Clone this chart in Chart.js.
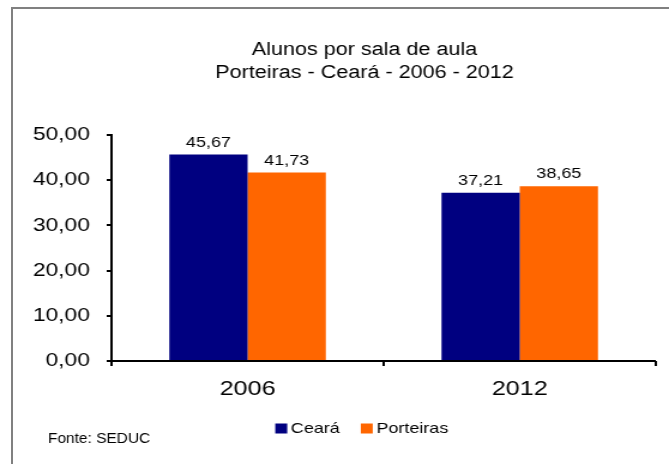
<!DOCTYPE html>
<html>
<head>
<meta charset="utf-8">
<script src="https://cdn.jsdelivr.net/npm/chart.js@4.4.0/dist/chart.umd.min.js"></script>
<style>
  html, body { margin: 0; padding: 0; background: #fff; overflow: hidden; width: 669px; height: 464px; }
  #frame { position: absolute; left: 11px; top: 7px; width: 900px; height: 700px; border: 2px solid #808080; }
  #chart { position: absolute; left: 0; top: 0; }
</style>
</head>
<body>
<div id="frame"></div>
<!-- canvas drawn narrower and stretched a little, like the source picture -->
<canvas id="chart" width="558" height="464" style="width:669px;height:464px"></canvas>
<script>
  var FONT = '"Liberation Sans", Arial, sans-serif';

  var titleLines = ['Alunos por sala de aula', 'Porteiras - Ceará - 2006 - 2012'];
  var categories = ['2006', '2012'];
  var seriesNames = ['Ceará', 'Porteiras'];
  var cearaValues = [45.67, 37.21];
  var porteirasValues = [41.73, 38.65];
  var yMin = 0, yMax = 50, yStep = 10;
  var sourceNote = 'Fonte: SEDUC';

  var COLORS = { ceara: '#000080', porteiras: '#FF6600', ink: '#000000' };

  function fmt(v, d) { return Number(v).toFixed(d).replace('.', ','); }

  Chart.defaults.font.family = FONT;

  // numbers above each bar
  var valueLabels = {
    id: 'valueLabels',
    afterDatasetsDraw: function (chart) {
      var ctx = chart.ctx;
      chart.data.datasets.forEach(function (ds, i) {
        var meta = chart.getDatasetMeta(i);
        meta.data.forEach(function (bar, idx) {
          ctx.save();
          ctx.fillStyle = COLORS.ink;
          ctx.font = '15px ' + FONT;
          ctx.textAlign = 'center';
          ctx.fillText(fmt(ds.data[idx], 2), bar.x, bar.y - 12);
          ctx.restore();
        });
      });
    }
  };

  // "Fonte: SEDUC" at bottom left (condensed)
  var sourceLabel = {
    id: 'sourceLabel',
    afterDraw: function (chart) {
      var ctx = chart.ctx;
      ctx.save();
      ctx.translate(40, 439);
      ctx.scale(0.86, 1);
      ctx.fillStyle = COLORS.ink;
      ctx.font = '15px ' + FONT;
      ctx.fillText(sourceNote, 0, 0);
      ctx.restore();
    }
  };

  var ctx = document.getElementById('chart').getContext('2d');
  new Chart(ctx, {
    type: 'bar',
    data: {
      labels: categories,
      datasets: [
        { label: seriesNames[0], data: cearaValues, backgroundColor: COLORS.ceara, borderWidth: 0 },
        { label: seriesNames[1], data: porteirasValues, backgroundColor: COLORS.porteiras, borderWidth: 0 }
      ]
    },
    options: {
      responsive: false,
      animation: false,
      layout: { padding: { top: 0, left: 61, right: 11, bottom: 18 } },
      datasets: { bar: { categoryPercentage: 0.575, barPercentage: 1 } },
      plugins: {
        title: {
          display: true,
          text: titleLines,
          color: COLORS.ink,
          font: { size: 18, weight: 'normal', lineHeight: 23 / 18 },
          padding: { top: 39, bottom: 50 }
        },
        legend: {
          position: 'bottom',
          labels: { color: COLORS.ink, font: { size: 15 }, usePointStyle: true, pointStyle: 'rect', boxWidth: 1, boxHeight: 10, padding: 22 }
        },
        tooltip: { enabled: false }
      },
      scales: {
        x: {
          // the baseline comes from the y grid line at 0, only tick marks here
          grid: { drawOnChartArea: false, drawTicks: true, tickLength: 5, color: COLORS.ink, lineWidth: 2, offset: true },
          border: { display: false },
          ticks: { color: COLORS.ink, font: { size: 21 }, padding: 11 },
          afterFit: function (s) { s.height = 38; }
        },
        y: {
          min: yMin,
          max: yMax,
          ticks: {
            stepSize: yStep,
            color: COLORS.ink,
            font: { size: 19 },
            padding: 14,
            callback: function (v) { return fmt(v, 2); }
          },
          grid: {
            drawOnChartArea: true,
            tickLength: 4,
            lineWidth: 2,
            color: function (c) { return c.tick && c.tick.value === 0 ? COLORS.ink : 'rgba(0,0,0,0)'; },
            tickColor: COLORS.ink
          },
          border: { display: true, color: COLORS.ink, width: 2 },
          afterFit: function (s) {
            s.width = 32;
            // labels reach left of the narrow axis box, so do not clip them
            s._computeLabelArea = function () { return null; };
          }
        }
      }
    },
    plugins: [valueLabels, sourceLabel]
  });
</script>
</body>
</html>
